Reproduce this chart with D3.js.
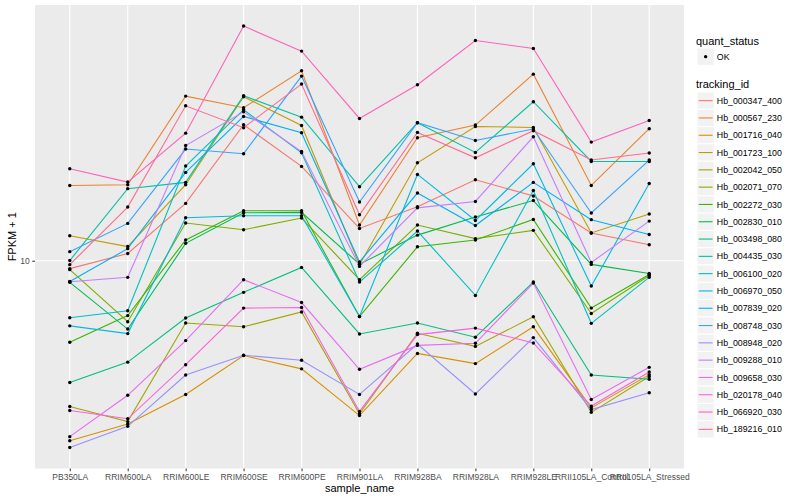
<!DOCTYPE html>
<html>
<head>
<meta charset="utf-8">
<script src="https://cdn.jsdelivr.net/npm/d3@7"></script>
<style>
  body { margin: 0; background: #fff; }
  svg { font-family: "Liberation Sans", Arial, Helvetica, sans-serif; }
</style>
</head>
<body>
<div id="chart"></div>
<script>
"use strict";

var samples = ["PB350LA", "RRIM600LA", "RRIM600LE", "RRIM600SE", "RRIM600PE", "RRIM901LA",
               "RRIM928BA", "RRIM928LA", "RRIM928LE", "RRII105LA_Control", "RRII105LA_Stressed"];

var trackingIds = ["Hb_000347_400", "Hb_000567_230", "Hb_001716_040", "Hb_001723_100", "Hb_002042_050",
                   "Hb_002071_070", "Hb_002272_030", "Hb_002830_010", "Hb_003498_080", "Hb_004435_030",
                   "Hb_006100_020", "Hb_006970_050", "Hb_007839_020", "Hb_008748_030", "Hb_008948_020",
                   "Hb_009288_010", "Hb_009658_030", "Hb_020178_040", "Hb_066920_030", "Hb_189216_010"];

// ggplot hue palette, 20 levels
var lineColors = ["#F8766D", "#EA8331", "#D89000", "#C09B00", "#A3A500", "#7CAE00", "#39B600", "#00BB4E",
                  "#00BF7D", "#00C1A3", "#00BFC4", "#00BAE0", "#00B0F6", "#35A2FF", "#9590FF", "#C77CFF",
                  "#E76BF3", "#FA62DB", "#FF62BC", "#FF6C91"];

// FPKM + 1, one row per tracking_id, one value per sample
var fpkm = [
  [9.68, 10.30, 12.66, 17.49, 14.74, 11.42, 12.49, 13.95, 13.05, 11.21, 10.68],
  [13.63, 13.67, 19.68, 18.76, 21.84, 11.58, 16.58, 17.47, 21.54, 13.63, 17.21],
  [4.77, 5.11, 5.77, 6.77, 6.41, 5.29, 6.83, 6.55, 7.62, 5.46, 6.26],
  [11.08, 10.60, 13.67, 19.63, 17.44, 9.84, 14.96, 17.37, 17.30, 11.21, 12.12],
  [5.49, 5.16, 7.74, 7.62, 8.10, 5.33, 7.42, 7.03, 7.94, 5.36, 6.21],
  [9.64, 7.78, 11.68, 11.36, 11.92, 9.25, 11.58, 10.95, 11.33, 8.05, 9.41],
  [7.15, 7.98, 10.89, 12.28, 12.28, 7.95, 10.59, 10.89, 11.85, 8.23, 9.45],
  [9.15, 7.55, 10.74, 12.18, 12.20, 9.86, 11.11, 11.97, 12.81, 9.85, 9.49],
  [6.06, 6.59, 7.90, 8.78, 9.73, 7.40, 7.74, 7.30, 9.16, 6.25, 6.14],
  [10.01, 13.45, 13.80, 19.71, 18.05, 13.56, 17.64, 15.61, 19.23, 15.04, 15.04],
  [7.91, 8.14, 14.76, 18.61, 15.59, 9.16, 11.30, 8.67, 13.35, 7.73, 9.34],
  [7.65, 7.41, 11.93, 12.03, 12.03, 7.95, 14.26, 11.80, 14.90, 9.01, 13.74],
  [9.18, 10.51, 14.38, 18.10, 16.93, 9.95, 13.21, 11.56, 13.80, 11.84, 11.14],
  [10.38, 11.66, 15.83, 15.53, 21.37, 12.73, 17.64, 16.40, 17.19, 12.17, 15.13],
  [4.64, 5.06, 6.25, 6.78, 6.64, 5.77, 7.10, 5.78, 7.29, 5.42, 5.81],
  [9.17, 9.34, 16.06, 18.45, 15.67, 9.77, 12.43, 12.76, 16.65, 9.93, 11.77],
  [4.85, 5.75, 7.20, 9.25, 8.42, 6.40, 7.06, 7.12, 9.12, 5.65, 6.45],
  [5.40, 5.22, 6.52, 8.23, 8.25, 5.38, 7.38, 7.58, 7.13, 5.50, 6.33],
  [14.60, 13.82, 16.90, 26.25, 23.68, 17.95, 20.62, 24.74, 23.94, 16.29, 17.80],
  [9.84, 12.47, 18.91, 17.28, 20.68, 12.08, 16.95, 15.27, 17.07, 15.13, 15.57]
];

var yTicks = [10];
var quantStatus = ["OK"];

// == layout ==
var W = 800, H = 500;
var panel = { left: 35, right: 684, top: 5, bottom: 468.5 };

var svg = d3.select("#chart").append("svg")
    .attr("width", W).attr("height", H);

var x = d3.scalePoint()
    .domain(samples)
    .range([panel.left, panel.right])
    .padding(0.6);

// log scale with ggplot's 5% expansion (in log space)
var allVals = d3.merge(fpkm);
var lo = Math.log10(d3.min(allVals)), hi = Math.log10(d3.max(allVals));
var pad = (hi - lo) * 0.05;
var y = d3.scaleLog()
    .domain([Math.pow(10, lo - pad), Math.pow(10, hi + pad)])
    .range([panel.bottom, panel.top]);

// panel background + grid
svg.append("rect")
    .attr("x", panel.left).attr("y", panel.top)
    .attr("width", panel.right - panel.left).attr("height", panel.bottom - panel.top)
    .attr("fill", "#EBEBEB");

svg.append("g").selectAll("line")
    .data(yTicks)
    .enter().append("line")
    .attr("x1", panel.left).attr("x2", panel.right)
    .attr("y1", function (d) { return y(d); })
    .attr("y2", function (d) { return y(d); })
    .attr("stroke", "#fff").attr("stroke-width", 1.1);

svg.append("g").selectAll("line")
    .data(samples)
    .enter().append("line")
    .attr("x1", function (d) { return x(d); })
    .attr("x2", function (d) { return x(d); })
    .attr("y1", panel.top).attr("y2", panel.bottom)
    .attr("stroke", "#fff").attr("stroke-width", 1.1);

// lines
var line = d3.line()
    .x(function (d, i) { return x(samples[i]); })
    .y(function (d) { return y(d); });

svg.append("g").selectAll("path")
    .data(fpkm)
    .enter().append("path")
    .attr("d", line)
    .attr("fill", "none")
    .attr("stroke", function (d, i) { return lineColors[i]; })
    .attr("stroke-width", 1.1);

// points
var pts = [];
fpkm.forEach(function (row) {
    row.forEach(function (v, i) { pts.push({ s: samples[i], v: v }); });
});
svg.append("g").selectAll("circle")
    .data(pts)
    .enter().append("circle")
    .attr("cx", function (d) { return x(d.s); })
    .attr("cy", function (d) { return y(d.v); })
    .attr("r", 1.7)
    .attr("fill", "#000");

// axes
var xAxis = svg.append("g")
    .attr("transform", "translate(0," + panel.bottom + ")")
    .call(d3.axisBottom(x).tickSize(2.75).tickPadding(2.5));
var yAxis = svg.append("g")
    .attr("transform", "translate(" + panel.left + ",0)")
    .call(d3.axisLeft(y).tickValues(yTicks).tickFormat(d3.format("d")).tickSize(2.75).tickPadding(2.5));

[xAxis, yAxis].forEach(function (g) {
    g.select(".domain").remove();
    g.selectAll(".tick line").attr("stroke", "#333333").attr("stroke-width", 1);
    g.selectAll(".tick text")
        .attr("fill", "#4D4D4D")
        .style("font-family", "'Liberation Sans', Arial, sans-serif")
        .style("font-size", "8.5px");
});

// axis titles
svg.append("text")
    .attr("x", (panel.left + panel.right) / 2).attr("y", 492)
    .attr("text-anchor", "middle")
    .style("font-size", "11px")
    .text("sample_name");

svg.append("text")
    .attr("transform", "translate(16," + ((panel.top + panel.bottom) / 2) + ") rotate(-90)")
    .attr("text-anchor", "middle")
    .style("font-size", "11px")
    .text("FPKM + 1");

// legends
var lg = svg.append("g").attr("transform", "translate(697,0)");
var keyH = 17.3;

lg.append("text").attr("x", -1).attr("y", 44.5)
    .style("font-size", "11px").text("quant_status");

var qk = lg.selectAll(".qkey")
    .data(quantStatus)
    .enter().append("g")
    .attr("transform", function (d, i) { return "translate(0," + (48 + i * keyH) + ")"; });
qk.append("rect")
    .attr("width", keyH).attr("height", keyH)
    .attr("fill", "#F2F2F2").attr("stroke", "#fff");
qk.append("circle")
    .attr("cx", keyH / 2).attr("cy", keyH / 2).attr("r", 1.7).attr("fill", "#000");
qk.append("text")
    .attr("x", keyH + 2.5).attr("y", keyH / 2 + 3.1)
    .style("font-size", "8.8px").text(function (d) { return d; });

lg.append("text").attr("x", -1).attr("y", 88)
    .style("font-size", "11px").text("tracking_id");

var tk = lg.selectAll(".tkey")
    .data(trackingIds)
    .enter().append("g")
    .attr("transform", function (d, i) { return "translate(0," + (92 + i * keyH) + ")"; });
tk.append("rect")
    .attr("width", keyH).attr("height", keyH)
    .attr("fill", "#F2F2F2").attr("stroke", "#fff");
tk.append("line")
    .attr("x1", 1.7).attr("x2", keyH - 1.7)
    .attr("y1", keyH / 2).attr("y2", keyH / 2)
    .attr("stroke", function (d, i) { return lineColors[i]; })
    .attr("stroke-width", 1.1);
tk.append("text")
    .attr("x", keyH + 2.5).attr("y", keyH / 2 + 3.1)
    .style("font-size", "8.8px").text(function (d) { return d; });
</script>
</body>
</html>
